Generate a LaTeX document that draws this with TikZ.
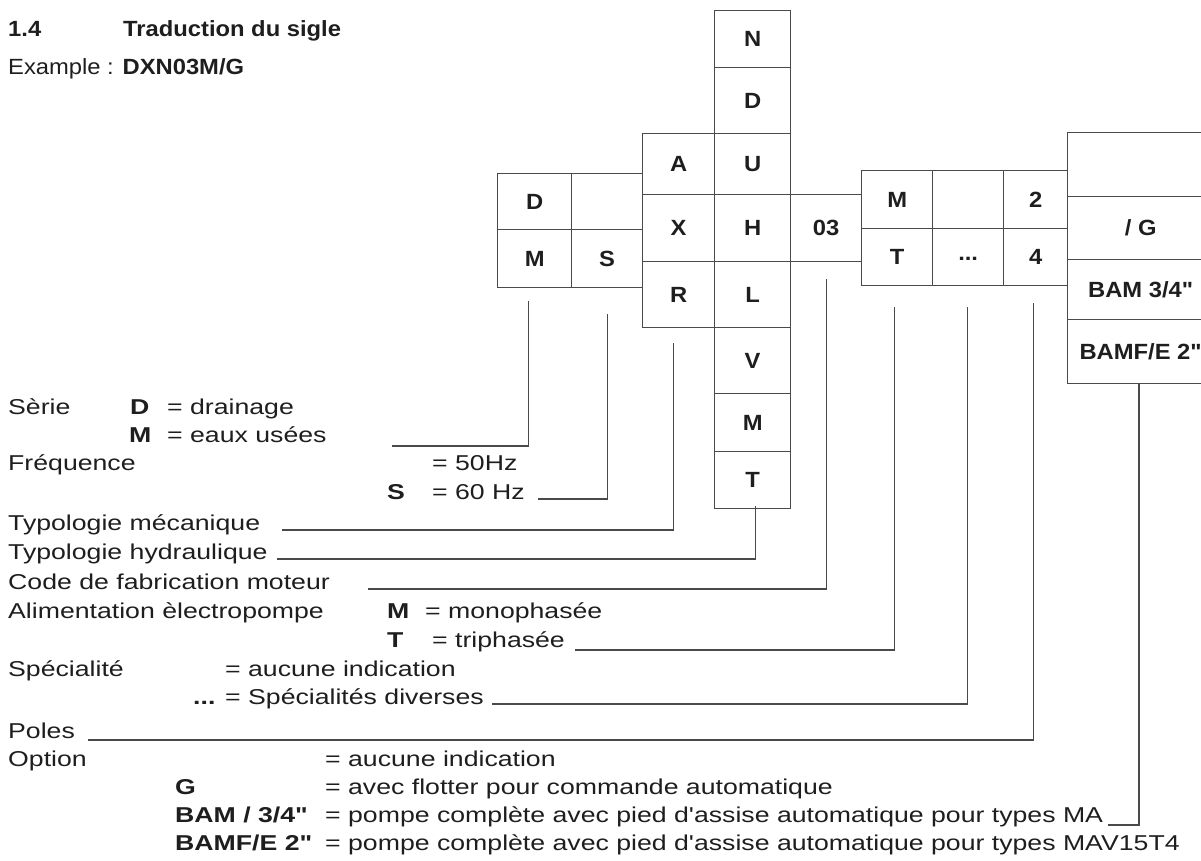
\documentclass[tikz,border=0pt]{standalone}
\usepackage{fontspec}
\setmainfont{Liberation Sans}
\newfontfamily\legendfont[FakeStretch=1.24]{Liberation Sans}
\newfontfamily\cellfont[FakeStretch=1.08]{Liberation Sans}
\definecolor{ink}{HTML}{1E1E1E}
\definecolor{rule}{HTML}{4A4A4A}
\tikzset{
  cell/.style={draw=rule, line width=1.3pt, inner sep=0pt, anchor=north west,
    font=\cellfont\fontsize{22}{22}\selectfont\bfseries, text=ink},
  lbl/.style={anchor=base west, inner sep=0pt, text=ink,
    font=\legendfont\fontsize{21.5}{21.5}\selectfont},
  blbl/.style={lbl, font=\legendfont\fontsize{21.5}{21.5}\selectfont\bfseries},
  head/.style={anchor=base west, inner sep=0pt, text=ink,
    font=\cellfont\fontsize{22}{22}\selectfont},
  bhead/.style={head, font=\cellfont\fontsize{22}{22}\selectfont\bfseries},
  lead/.style={draw=rule, line width=1.2pt}
}
% cell with its top-left corner at (x,y), width w, height h
\newcommand{\cellat}[6]{\node[cell, minimum width=#4pt, minimum height=#5pt] (#1) at (#2,#3) {#6};}
\begin{document}
\begin{tikzpicture}[x=1pt,y=-1pt]
\useasboundingbox (0,0) rectangle (1201,861);

% heading
\node[bhead] (num) at (8,37) {1.4};
\node[bhead] (title) at (123,37) {Traduction du sigle};
\node[head] (ex) at (8,75) {Example : \textbf{DXN03M/G}};

% series / frequency block
\cellat{cD}{497}{173}{74}{56}{D}
\cellat{cE}{571}{173}{71}{56}{}
\cellat{cM}{497}{229}{74}{58}{M}
\cellat{cS}{571}{229}{71}{58}{S}
% mechanical typology
\cellat{cA}{642}{133}{72}{61}{A}
\cellat{cX}{642}{194}{72}{67}{X}
\cellat{cR}{642}{261}{72}{66}{R}
% hydraulic typology
\cellat{hN}{714}{10}{76}{57}{N}
\cellat{hD}{714}{67}{76}{66}{D}
\cellat{hU}{714}{133}{76}{61}{U}
\cellat{hH}{714}{194}{76}{67}{H}
\cellat{hL}{714}{261}{76}{66}{L}
\cellat{hV}{714}{327}{76}{66}{V}
\cellat{hM}{714}{393}{76}{58}{M}
\cellat{hT}{714}{451}{76}{57}{T}
% motor code
\cellat{c03}{790}{194}{71}{67}{03}
% supply, speciality, poles
\cellat{pM}{861}{170}{71}{58}{M}
\cellat{pE}{932}{170}{71}{58}{}
\cellat{p2}{1003}{170}{64}{58}{2}
\cellat{pT}{861}{228}{71}{57}{T}
\cellat{pS}{932}{228}{71}{57}{\raisebox{-6pt}{...}}
\cellat{p4}{1003}{228}{64}{57}{4}
% options
\cellat{o0}{1067}{132}{146}{64}{}
\cellat{oG}{1067}{196}{146}{63}{/ G}
\cellat{oB}{1067}{259}{146}{60}{BAM 3/4"}
\cellat{oF}{1067}{319}{146}{64}{BAMF/E 2"}

% legend text
\node[lbl] (serie) at (8,414) {Sèrie};
\node[blbl] (kD) at (130,414) {D};
\node[lbl] (vD) at (167,414) {= drainage};
\node[blbl] (kM) at (129,442) {M};
\node[lbl] (vM) at (167,442) {= eaux usées};
\node[lbl] (freq) at (8,470) {Fréquence};
\node[lbl] (v50) at (432,470) {= 50Hz};
\node[blbl] (kS) at (387,499) {S};
\node[lbl] (v60) at (432,499) {= 60 Hz};
\node[lbl] (tmec) at (8,530) {Typologie mécanique};
\node[lbl] (thyd) at (8,559) {Typologie hydraulique};
\node[lbl] (code) at (8,589) {Code de fabrication moteur};
\node[lbl] (alim) at (8,618) {Alimentation èlectropompe};
\node[blbl] (kPM) at (387,618) {M};
\node[lbl] (vPM) at (425,618) {= monophasée};
\node[blbl] (kPT) at (387,647) {T};
\node[lbl] (vPT) at (432,647) {= triphasée};
\node[lbl] (spec) at (8,676) {Spécialité};
\node[lbl] (vSp) at (225,676) {= aucune indication};
\node[blbl] (kDots) at (193,704) {...};
\node[lbl] (vDots) at (225,704) {= Spécialités diverses};
\node[lbl] (poles) at (8,738) {Poles};
\node[lbl] (opt) at (8,766) {Option};
\node[lbl] (vO) at (325,766) {= aucune indication};
\node[blbl] (kG) at (175,794) {G};
\node[lbl] (vG) at (325,794) {= avec flotter pour commande automatique};
\node[blbl] (kB) at (175,822) {BAM / 3/4"};
\node[lbl] (vB) at (325,822) {= pompe complète avec pied d'assise automatique pour types MA};
\node[blbl] (kF) at (175,850) {BAMF/E 2"};
\node[lbl] (vF) at (325,850) {= pompe complète avec pied d'assise automatique pour types MAV15T4};

% leader lines from the cells to the legend
\coordinate (eD) at (392,446);
\draw[lead] (cM.south) ++(-6,13) |- (eD);
\coordinate (eS) at (538,499);
\draw[lead] (cS.south) ++(0,26) |- (eS);
\coordinate (eR) at (282,530);
\draw[lead] (cR.south) ++(-5,15) |- (eR);
\coordinate (eT) at (277,559);
\draw[lead] (hT.south) ++(3,-3) |- (eT);
\coordinate (e03) at (368,589);
\draw[lead] (c03.south east) ++(-36,17) |- (e03);
\coordinate (ePT) at (575,650);
\draw[lead] (pT.south) ++(-3,21) |- (ePT);
\coordinate (ePS) at (492,704);
\draw[lead] (pS.south) ++(-1,21) |- (ePS);
\coordinate (eP4) at (88,740);
\draw[lead] (p4.south) ++(-2,17) |- (eP4);
\coordinate (eOF) at (1108,825);
\draw[lead] (oF.south west) ++(72,0) |- (eOF);
\end{tikzpicture}
\end{document}
